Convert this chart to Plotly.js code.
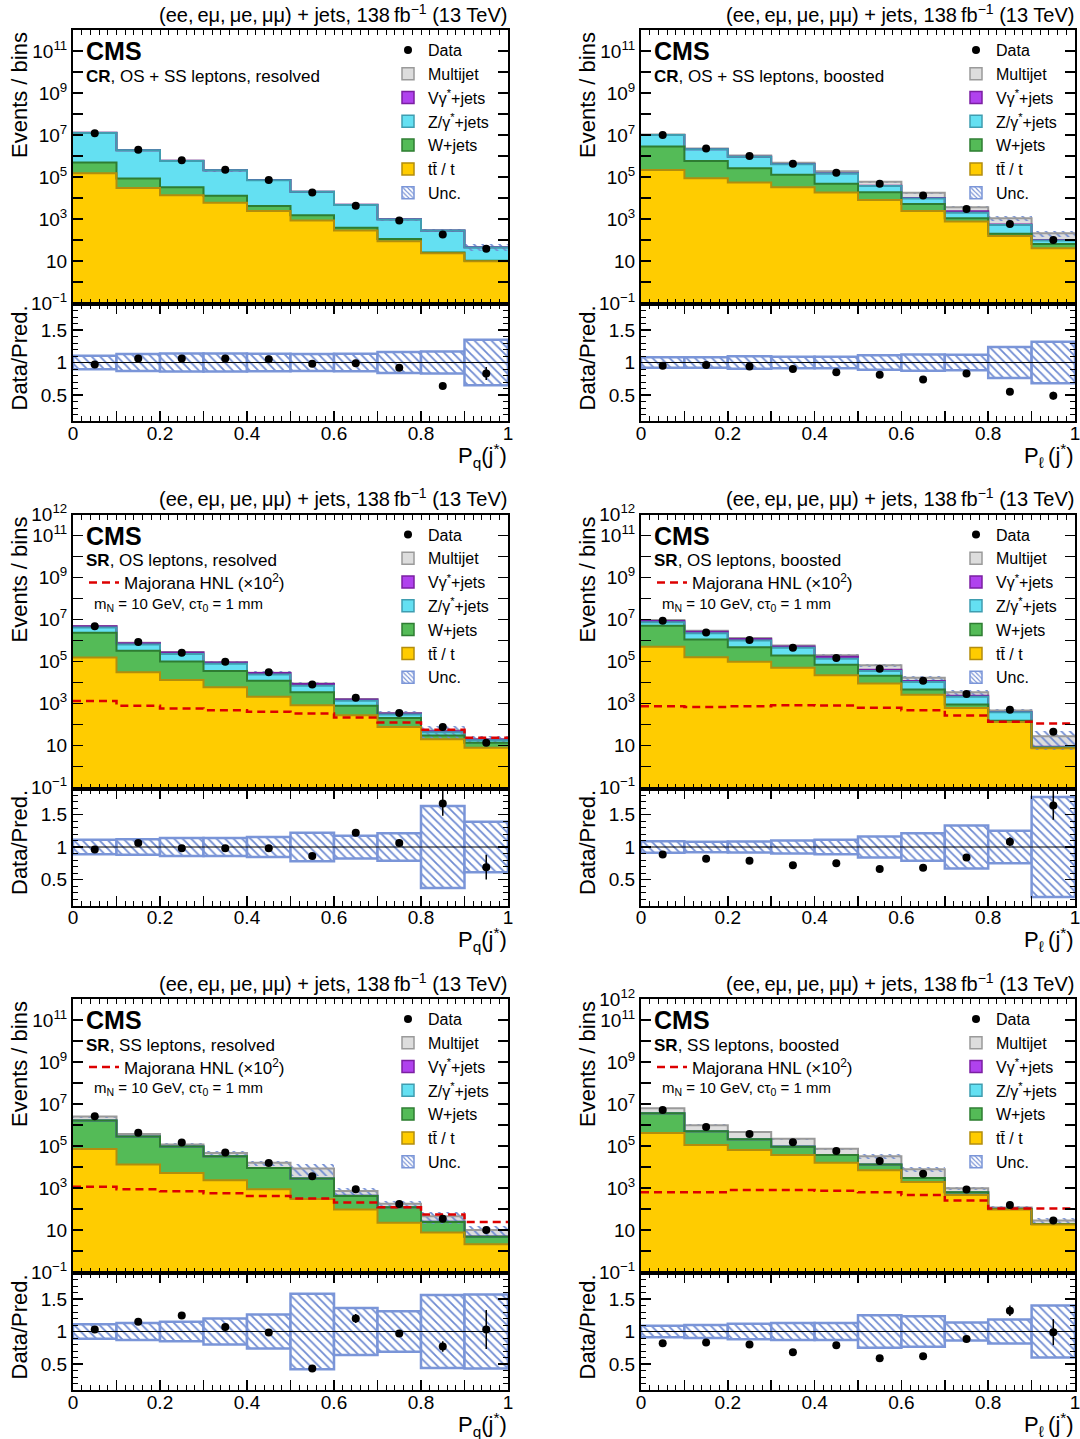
<!DOCTYPE html>
<html>
<head>
<meta charset="utf-8">
<script src="https://cdn.plot.ly/plotly-3.0.1.min.js"></script>
<style>
html, body { margin: 0; padding: 0; background: #ffffff; }
#chart { width: 1080px; height: 1439px; }
</style>
</head>
<body>
<div id="chart"></div>
<script>
// ---------------- data ----------------
const binCenters = [0.05, 0.15, 0.25, 0.35, 0.45, 0.55, 0.65, 0.75, 0.85, 0.95];
const binEdges = [0, 0.1, 0.2, 0.3, 0.4, 0.5, 0.6, 0.7, 0.8, 0.9, 1.0];
const xTickText = ['0', '', '0.2', '', '0.4', '', '0.6', '', '0.8', '', '1'];
const ratioTickVals = [0.5, 1, 1.5];
const ratioTickText = ['0.5', '1', '1.5'];
const decadeExponents = [-1, 0, 1, 2, 3, 4, 5, 6, 7, 8, 9, 10, 11, 12];

const headerText = '(ee,\u2009eμ,\u2009μe,\u2009μμ) + jets, 138\u2009fb<sup>−1</sup> (13 TeV)';
const xTitleQ = 'P<sub>q</sub>(j<sup>*</sup>)';
const xTitleL = 'P<sub>ℓ</sub>\u2009(j<sup>*</sup>)';
const hnlName = 'Majorana HNL (×10<sup>2</sup>)';
const hnlParams = 'm<sub>N</sub> = 10 GeV, cτ<sub>0</sub> = 1 mm';
const legendNames = ['Data', 'Multijet', 'Vγ<sup>*</sup>+jets', 'Z/γ<sup>*</sup>+jets', 'W+jets', 'tt\u0304 / t', 'Unc.'];

// CR, OS + SS leptons, resolved  (P_q)
const crResolvedTt = [1.5e5, 3.0e4, 1.35e4, 6.0e3, 2.4e3, 850, 280, 87, 23, 9.8];
const crResolvedW = [3.4e5, 5.5e4, 1.85e4, 6.6e3, 1.8e3, 650, 100, 23, 2, 0.5];
const crResolvedZ = [1.2e7, 1.79e6, 5.5e5, 1.95e5, 6.6e4, 1.83e4, 4.3e3, 840, 257, 34];
const crResolvedVg = [1.2e5, 1.8e4, 5.0e3, 1.8e3, 600, 160, 40, 8, 2, 0.3];
const crResolvedMj = [2.0e4, 3.0e3, 1.0e3, 300, 100, 30, 5, 1, 0.5, 0.5];
const crResolvedData = [1.2e7, 2.0e6, 6.3e5, 2.2e5, 7.1e4, 1.8e4, 4.3e3, 850, 180, 38];
const crResolvedRatio = [0.97, 1.06, 1.06, 1.06, 1.05, 0.98, 0.99, 0.92, 0.64, 0.83];
const crResolvedRatioErr = [0.003, 0.003, 0.004, 0.005, 0.008, 0.01, 0.02, 0.04, 0.05, 0.10];
const crResolvedUnc = [0.105, 0.13, 0.14, 0.14, 0.135, 0.13, 0.135, 0.16, 0.17, 0.35];

// CR, OS + SS leptons, boosted  (P_l)
const crBoostedTt = [2.15e5, 8.7e4, 5.4e4, 3.2e4, 1.8e4, 8.0e3, 2.4e3, 750, 155, 40];
const crBoostedW = [2.585e6, 4.93e5, 2.06e5, 9.4e4, 3.0e4, 1.06e4, 2.7e3, 320, 40, 25];
const crBoostedZ = [7.2e6, 1.5e6, 6.5e5, 2.8e5, 1.0e5, 1.84e4, 4.4e3, 930, 315, 29];
const crBoostedVg = [1.0e5, 3.0e4, 1.2e4, 6.0e3, 3.0e3, 1.5e3, 600, 300, 30, 5];
const crBoostedMj = [3.0e5, 1.5e5, 1.2e5, 6.0e4, 3.5e4, 2.0e4, 7.5e3, 1.3e3, 530, 110];
const crBoostedData = [1.0e7, 2.3e6, 1.0e6, 4.3e5, 1.6e5, 4.8e4, 1.3e4, 3.0e3, 580, 100];
const crBoostedRatio = [0.95, 0.96, 0.94, 0.90, 0.85, 0.81, 0.74, 0.83, 0.55, 0.49];
const crBoostedRatioErr = [0.003, 0.003, 0.003, 0.004, 0.006, 0.01, 0.015, 0.03, 0.04, 0.06];
const crBoostedUnc = [0.08, 0.08, 0.095, 0.09, 0.09, 0.11, 0.125, 0.12, 0.24, 0.32];

// SR, OS leptons, resolved  (P_q)
const srOsResolvedTt = [1.55e5, 3.1e4, 1.3e4, 5.9e3, 2.1e3, 830, 275, 76, 19.5, 7.8];
const srOsResolvedW = [2.15e6, 2.9e5, 8.7e4, 2.9e4, 9.9e3, 2.57e3, 505, 129, 10.5, 5.7];
const srOsResolvedZ = [1.8e6, 3.2e5, 1.3e5, 4.2e4, 1.2e4, 3.5e3, 550, 90, 13, 4];
const srOsResolvedVg = [6.0e5, 1.0e5, 4.0e4, 1.2e4, 4.0e3, 1.5e3, 200, 40, 5, 1.5];
const srOsResolvedMj = [2.0e5, 3.0e4, 1.0e4, 3.0e3, 1.0e3, 500, 100, 20, 3, 1];
const srOsResolvedData = [4.8e6, 8.5e5, 2.6e5, 9.6e4, 3.1e4, 8.0e3, 1.85e3, 355, 76, 13.5];
const srOsResolvedRatio = [0.96, 1.06, 0.98, 0.98, 0.98, 0.86, 1.22, 1.06, 1.67, 0.69];
const srOsResolvedRatioErr = [0.004, 0.005, 0.008, 0.012, 0.02, 0.03, 0.05, 0.06, 0.19, 0.19];
const srOsResolvedUnc = [0.11, 0.12, 0.14, 0.14, 0.155, 0.22, 0.175, 0.21, 0.63, 0.39];
const srOsResolvedHnl = [1300, 780, 575, 480, 400, 330, 215, 123, 56, 23];

// SR, OS leptons, boosted  (P_l)
const srOsBoostedTt = [5.0e5, 1.6e5, 9.6e4, 5.0e4, 2.2e4, 9.0e3, 2.6e3, 600, 130, 7.4];
const srOsBoostedW = [4.5e6, 9.4e5, 3.84e5, 1.4e5, 4.8e4, 1.2e4, 2.0e3, 300, 20, 0.3];
const srOsBoostedZ = [2.3e6, 1.1e6, 5.2e5, 2.6e5, 6.6e4, 1.4e4, 5.8e3, 1.2e3, 230, 0.5];
const srOsBoostedVg = [1.2e6, 4.0e5, 1.7e5, 7.0e4, 3.0e4, 5.0e3, 1.2e3, 200, 15, 0.5];
const srOsBoostedMj = [1.0e6, 3.0e5, 1.3e5, 6.0e4, 3.4e4, 2.6e4, 5.4e3, 1.1e3, 65, 19];
const srOsBoostedData = [8.6e6, 2.4e6, 1.04e6, 4.5e5, 1.47e5, 4.5e4, 1.2e4, 2.8e3, 500, 45];
const srOsBoostedRatio = [0.885, 0.82, 0.79, 0.72, 0.75, 0.66, 0.68, 0.84, 1.08, 1.64];
const srOsBoostedRatioErr = [0.003, 0.004, 0.005, 0.007, 0.01, 0.015, 0.03, 0.05, 0.07, 0.22];
const srOsBoostedUnc = [0.09, 0.08, 0.085, 0.10, 0.11, 0.16, 0.21, 0.33, 0.25, 0.77];
const srOsBoostedHnl = [740, 680, 740, 830, 800, 630, 480, 270, 135, 112];

// SR, SS leptons, resolved  (P_q)
const srSsResolvedTt = [7.2e4, 1.3e4, 5.2e3, 2.3e3, 870, 295, 93, 22, 7.5, 2.1];
const srSsResolvedW = [1.58e6, 2.67e5, 8.8e4, 2.97e4, 8.1e3, 2.5e3, 327, 98, 16.5, 2.6];
const srSsResolvedZ = [2.0e3, 500, 200, 80, 30, 10, 3, 1, 0.3, 0.1];
const srSsResolvedVg = [1.0e3, 300, 100, 40, 15, 5, 2, 0.5, 0.2, 0.05];
const srSsResolvedMj = [8.5e5, 9.3e4, 2.3e4, 1.37e4, 6.7e3, 5.6e3, 300, 55, 20, 5];
const srSsResolvedData = [2.6e6, 4.3e5, 1.45e5, 4.9e4, 1.55e4, 3.6e3, 870, 170, 34, 10];
const srSsResolvedRatio = [1.03, 1.15, 1.245, 1.07, 0.985, 0.43, 1.20, 0.97, 0.77, 1.03];
const srSsResolvedRatioErr = [0.005, 0.01, 0.015, 0.02, 0.03, 0.03, 0.07, 0.05, 0.08, 0.30];
const srSsResolvedUnc = [0.11, 0.13, 0.15, 0.20, 0.26, 0.58, 0.36, 0.31, 0.56, 0.57];
const srSsResolvedHnl = [1150, 870, 690, 560, 420, 316, 205, 120, 54, 24];

// SR, SS leptons, boosted  (P_l)
const srSsBoostedTt = [4.2e5, 1.1e5, 6.5e4, 3.7e4, 1.6e4, 6.9e3, 1.9e3, 460, 95, 18];
const srSsBoostedW = [3.18e6, 3.9e5, 1.45e5, 5.6e4, 2.1e4, 6.1e3, 1.1e3, 160, 5, 1];
const srSsBoostedZ = [5.0e3, 1.0e3, 500, 200, 80, 30, 10, 3, 1, 0.2];
const srSsBoostedVg = [3.0e3, 800, 300, 150, 50, 20, 6, 2, 0.5, 0.1];
const srSsBoostedMj = [2.59e6, 4.78e5, 2.49e5, 1.27e5, 3.59e4, 1.9e4, 4.7e3, 335, 15.5, 8.7];
const srSsBoostedData = [5.1e6, 8.1e5, 3.7e5, 1.5e5, 5.8e4, 1.9e4, 4.8e3, 850, 155, 28];
const srSsBoostedRatio = [0.82, 0.83, 0.80, 0.68, 0.79, 0.59, 0.62, 0.885, 1.32, 0.99];
const srSsBoostedRatioErr = [0.003, 0.005, 0.007, 0.01, 0.015, 0.02, 0.03, 0.03, 0.08, 0.20];
const srSsBoostedUnc = [0.09, 0.10, 0.12, 0.13, 0.13, 0.25, 0.235, 0.14, 0.185, 0.40];
const srSsBoostedHnl = [620, 620, 790, 790, 740, 620, 460, 255, 105, 105];

// ---------------- style ----------------
const FONT = 'Liberation Sans, Arial, Helvetica, sans-serif';
const compKeys = ['tt', 'w', 'z', 'vg', 'mj'];
const fillColors = { tt: '#ffcc00', w: '#54bb57', z: '#64e0f2', vg: '#b042ee', mj: '#dddddd' };
const lineColors = { tt: '#b38d0c', w: '#2e7d32', z: '#3f9db0', vg: '#7b1fa2', mj: '#9a9a9a' };
const uncColor = '#6f8bd2';
const uncLine = '#7a95d8';
const hnlColor = '#dd0000';

const panels = [
  { tt: crResolvedTt, w: crResolvedW, z: crResolvedZ, vg: crResolvedVg, mj: crResolvedMj, data: crResolvedData,
    ratio: crResolvedRatio, ratioErr: crResolvedRatioErr, unc: crResolvedUnc, hnl: null,
    label: '<b>CR</b>, OS + SS leptons, resolved', xTitle: xTitleQ, top12: false },
  { tt: crBoostedTt, w: crBoostedW, z: crBoostedZ, vg: crBoostedVg, mj: crBoostedMj, data: crBoostedData,
    ratio: crBoostedRatio, ratioErr: crBoostedRatioErr, unc: crBoostedUnc, hnl: null,
    label: '<b>CR</b>, OS + SS leptons, boosted', xTitle: xTitleL, top12: false },
  { tt: srOsResolvedTt, w: srOsResolvedW, z: srOsResolvedZ, vg: srOsResolvedVg, mj: srOsResolvedMj, data: srOsResolvedData,
    ratio: srOsResolvedRatio, ratioErr: srOsResolvedRatioErr, unc: srOsResolvedUnc, hnl: srOsResolvedHnl,
    label: '<b>SR</b>, OS leptons, resolved', xTitle: xTitleQ, top12: true },
  { tt: srOsBoostedTt, w: srOsBoostedW, z: srOsBoostedZ, vg: srOsBoostedVg, mj: srOsBoostedMj, data: srOsBoostedData,
    ratio: srOsBoostedRatio, ratioErr: srOsBoostedRatioErr, unc: srOsBoostedUnc, hnl: srOsBoostedHnl,
    label: '<b>SR</b>, OS leptons, boosted', xTitle: xTitleL, top12: true },
  { tt: srSsResolvedTt, w: srSsResolvedW, z: srSsResolvedZ, vg: srSsResolvedVg, mj: srSsResolvedMj, data: srSsResolvedData,
    ratio: srSsResolvedRatio, ratioErr: srSsResolvedRatioErr, unc: srSsResolvedUnc, hnl: srSsResolvedHnl,
    label: '<b>SR</b>, SS leptons, resolved', xTitle: xTitleQ, top12: false },
  { tt: srSsBoostedTt, w: srSsBoostedW, z: srSsBoostedZ, vg: srSsBoostedVg, mj: srSsBoostedMj, data: srSsBoostedData,
    ratio: srSsBoostedRatio, ratioErr: srSsBoostedRatioErr, unc: srSsBoostedUnc, hnl: srSsBoostedHnl,
    label: '<b>SR</b>, SS leptons, boosted', xTitle: xTitleL, top12: true }
];

// ---------------- geometry ----------------
const W = 1080, H = 1439;
const colLeft = [73, 641], colRight = [508, 1075];
const rowStep = 484.5;
const fx = px => px / W;
const fy = py => 1 - py / H;

const traces = [];
const annotations = [];
const shapes = [];
const layout = {
  width: W, height: H, autosize: false,
  margin: { l: 0, r: 0, t: 0, b: 0, pad: 0 },
  paper_bgcolor: '#ffffff', plot_bgcolor: '#ffffff',
  barmode: 'overlay', bargap: 0,
  showlegend: true, hovermode: false,
  font: { family: FONT, color: '#000000' }
};

const axisCommon = {
  showline: true, linecolor: '#000000', linewidth: 2, mirror: 'allticks',
  ticks: 'inside', tickcolor: '#000000', tickwidth: 1.5, ticklen: 10,
  showgrid: false, zeroline: false, fixedrange: true, ticklabeloverflow: 'allow',
  tickfont: { family: FONT, size: 19, color: '#000000' }
};

function textAnn(text, xpx, ypx, size, xanchor, yanchor, extra) {
  return Object.assign({
    xref: 'paper', yref: 'paper', x: fx(xpx), y: fy(ypx), xanchor: xanchor, yanchor: yanchor,
    text: text, showarrow: false, font: { family: FONT, size: size, color: '#000000' }
  }, extra || {});
}

let hnlLegendCount = 0;

panels.forEach((p, i) => {
  const col = i % 2, row = Math.floor(i / 2);
  const mainN = 2 * i + 1, ratN = 2 * i + 2;
  const xm = mainN === 1 ? 'x' : 'x' + mainN, ym = mainN === 1 ? 'y' : 'y' + mainN;
  const xr = 'x' + ratN, yr = 'y' + ratN;
  const top = 30 + row * rowStep, mid = 304 + row * rowStep, bot = 421 + row * rowStep;
  const xDom = [fx(colLeft[col]), fx(colRight[col])];
  const legId = i === 0 ? 'legend' : 'legend' + (i + 1);

  // axes
  layout['xaxis' + (mainN === 1 ? '' : mainN)] = Object.assign({}, axisCommon, {
    domain: xDom, range: [0, 1], anchor: ym, tickvals: binEdges, ticktext: binEdges.map(() => ''),
    showticklabels: false,
    minor: { tickmode: 'linear', tick0: 0, dtick: 0.02, ticks: 'inside', ticklen: 5, tickwidth: 1, tickcolor: '#000000' }
  });
  layout['yaxis' + (mainN === 1 ? '' : mainN)] = Object.assign({}, axisCommon, {
    type: 'log', domain: [fy(mid), fy(top)], range: [-1.05, 12], anchor: xm,
    tickvals: decadeExponents.map(e => Math.pow(10, e)),
    ticktext: decadeExponents.map(e => {
      if (e === -1) return '10<sup>−1</sup>';
      if (e === 1) return '10';
      if (e === 12) return p.top12 ? '10<sup>12</sup>' : '';
      return (e % 2 === 1 || e % 2 === -1) ? '10<sup>' + e + '</sup>' : '';
    })
  });
  layout['xaxis' + ratN] = Object.assign({}, axisCommon, {
    domain: xDom, range: [0, 1], anchor: yr, tickvals: binEdges, ticktext: xTickText,
    ticklabelstandoff: -6,
    minor: { tickmode: 'linear', tick0: 0, dtick: 0.02, ticks: 'inside', ticklen: 5, tickwidth: 1, tickcolor: '#000000' }
  });
  layout['yaxis' + ratN] = Object.assign({}, axisCommon, {
    domain: [fy(bot), fy(mid)], range: [0.1, 1.9], anchor: xr,
    tickvals: ratioTickVals, ticktext: ratioTickText,
    minor: { tickmode: 'linear', tick0: 0, dtick: 0.1, ticks: 'inside', ticklen: 5, tickwidth: 1, tickcolor: '#000000' }
  });

  // cumulative stack
  const comps = [p.tt, p.w, p.z, p.vg, p.mj];
  let run = binCenters.map(() => 0);
  const cums = comps.map(c => (run = run.map((v, k) => v + c[k])));
  const total = cums[4];

  for (let k = 4; k >= 0; k--) {
    traces.push({
      type: 'bar', x: binCenters, y: cums[k], width: 0.1, xaxis: xm, yaxis: ym,
      marker: { color: fillColors[compKeys[k]], line: { width: 0 } },
      showlegend: false, hoverinfo: 'skip'
    });
  }
  // uncertainty band (main)
  traces.push({
    type: 'bar', x: binCenters,
    base: total.map((t, k) => t * (1 - p.unc[k])),
    y: total.map((t, k) => 2 * t * p.unc[k]),
    width: 0.1, xaxis: xm, yaxis: ym,
    marker: { color: 'rgba(0,0,0,0)', line: { width: 0 },
      pattern: { shape: '\\', fgcolor: uncColor, bgcolor: 'rgba(0,0,0,0)', size: 6, solidity: 0.3 } },
    showlegend: false, hoverinfo: 'skip'
  });
  // step outlines
  for (let k = 4; k >= 0; k--) {
    traces.push({
      type: 'scatter', mode: 'lines', x: binEdges, y: cums[k].concat([cums[k][9]]),
      xaxis: xm, yaxis: ym, line: { shape: 'hv', color: lineColors[compKeys[k]], width: 2 },
      showlegend: false, hoverinfo: 'skip'
    });
  }
  // HNL signal
  if (p.hnl) {
    hnlLegendCount++;
    const hId = 'legend' + (6 + hnlLegendCount);
    traces.push({
      type: 'scatter', mode: 'lines', x: binEdges, y: p.hnl.concat([p.hnl[9]]),
      xaxis: xm, yaxis: ym, line: { shape: 'hv', color: hnlColor, width: 2.5, dash: '8px,5px' },
      name: hnlName, legend: hId, showlegend: true, hoverinfo: 'skip'
    });
    layout[hId] = {
      x: fx(84 + col * 568), y: fy(582 - 17 + (row - 1) * rowStep), xanchor: 'left', yanchor: 'top',
      bgcolor: 'rgba(0,0,0,0)', borderwidth: 0, font: { family: FONT, size: 17, color: '#000000' }
    };
    annotations.push(textAnn(hnlParams, 92 + col * 568, 604 + (row - 1) * rowStep, 15, 'left', 'middle'));
  }
  // data
  traces.push({
    type: 'scatter', mode: 'markers', x: binCenters, y: p.data, xaxis: xm, yaxis: ym,
    marker: { color: '#000000', size: 8, symbol: 'circle' },
    name: legendNames[0], legend: legId, legendrank: 1, showlegend: true, hoverinfo: 'skip'
  });
  // legend entries for stack components
  const legOrder = ['mj', 'vg', 'z', 'w', 'tt'];
  legOrder.forEach((key, j) => {
    traces.push({
      type: 'bar', x: [null], y: [null], xaxis: xm, yaxis: ym,
      marker: { color: fillColors[key], line: { color: lineColors[key], width: 1.5 } },
      name: legendNames[j + 1], legend: legId, legendrank: j + 2, showlegend: true, hoverinfo: 'skip'
    });
  });
  traces.push({
    type: 'bar', x: [null], y: [null], xaxis: xm, yaxis: ym,
    marker: { color: '#ffffff', line: { color: uncLine, width: 1.5 },
      pattern: { shape: '\\', fgcolor: uncColor, bgcolor: '#ffffff', size: 4, solidity: 0.35 } },
    name: legendNames[6], legend: legId, legendrank: 7, showlegend: true, hoverinfo: 'skip'
  });
  layout[legId] = {
    x: fx(388 + col * 568), y: fy(top + 3), xanchor: 'left', yanchor: 'top',
    bgcolor: 'rgba(0,0,0,0)', borderwidth: 0, tracegroupgap: 0,
    font: { family: FONT, size: 16, color: '#000000' }
  };

  // ratio panel
  traces.push({
    type: 'bar', x: binCenters, base: p.unc.map(u => 1 - u), y: p.unc.map(u => 2 * u),
    width: 0.1, xaxis: xr, yaxis: yr,
    marker: { color: '#ffffff', line: { color: uncLine, width: 2.5 },
      pattern: { shape: '\\', fgcolor: uncColor, bgcolor: '#ffffff', size: 6, solidity: 0.3 } },
    showlegend: false, hoverinfo: 'skip'
  });
  traces.push({
    type: 'scatter', mode: 'markers', x: binCenters, y: p.ratio, xaxis: xr, yaxis: yr,
    marker: { color: '#000000', size: 8 },
    error_y: { type: 'data', array: p.ratioErr, color: '#000000', thickness: 1.5, width: 0 },
    showlegend: false, hoverinfo: 'skip'
  });
  shapes.push({ type: 'line', xref: xr, yref: yr, x0: 0, x1: 1, y0: 1, y1: 1, layer: 'above',
    line: { color: '#000000', width: 1 } });

  // texts
  annotations.push(textAnn(headerText, colRight[col] + 1, 13 + row * rowStep, 20, 'right', 'middle'));
  annotations.push(textAnn('<b>CMS</b>', 84 + col * 568, 51 + row * rowStep, 25, 'left', 'middle'));
  annotations.push(textAnn(p.label, 84 + col * 568, 76 + row * rowStep, 17, 'left', 'middle'));
  annotations.push(textAnn('Events / bins', 19 + col * 568, top, 22, 'center', 'top', { textangle: -90 }));
  annotations.push(textAnn('Data/Pred.', 19 + col * 568, mid, 22, 'center', 'top', { textangle: -90 }));
  annotations.push(textAnn(p.xTitle, colRight[col] + 1, 455 + row * rowStep, 22, 'right', 'middle'));
});

layout.annotations = annotations;
layout.shapes = shapes;

Plotly.newPlot('chart', traces, layout, { staticPlot: true, displayModeBar: false });
</script>
</body>
</html>
